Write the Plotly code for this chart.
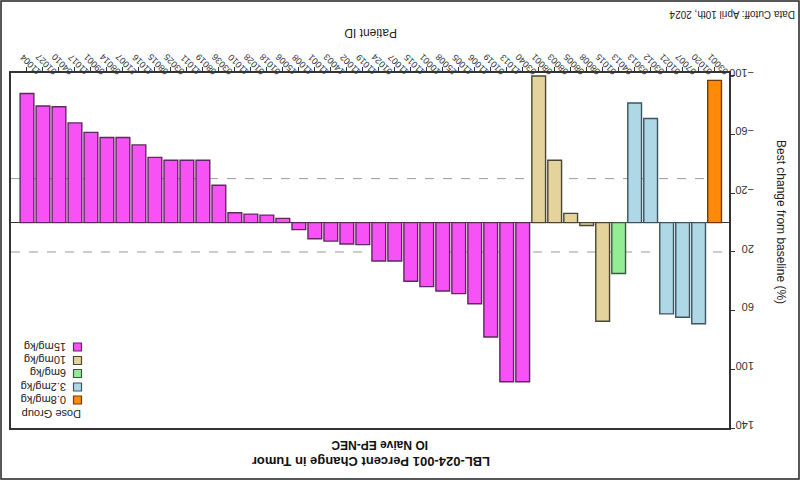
import plotly.graph_objects as go

# ---- data (display order, left to right) ----
patient_ids = ["11004", "01027", "04010", "11017", "09001", "08014", "21007", "11016",
               "08015", "03025", "11011", "08019", "03036", "11010", "01028", "01018",
               "15006", "11008", "11001", "14003", "11002", "11019", "01024", "11007",
               "11015", "10001", "25008", "11005", "11006", "01019", "11013", "03040",
               "08001", "08003", "08005", "08008", "01015", "04013", "03013", "03012",
               "01021", "07007", "01020", "03001"]
best_change = [-88, -79.5, -79, -68, -61.5, -58, -58, -53,
               -44.5, -42.5, -42.5, -42.5, -25.5, -6.7, -5.8, -5.1,
               -2.9, 4.8, 11, 12.6, 14.6, 15, 26.2, 26.2,
               40, 43.6, 46.6, 48.4, 55.3, 78, 108.5, 108.5,
               -100, -42.5, -6.3, 2, 67.2, 34.7, -81.5, -71,
               62.2, 64.5, 68.9, -97]
dose_group = (["15mg/kg"] * 32 + ["10mg/kg"] * 5 + ["6mg/kg"] + ["3.2mg/kg"] * 5 + ["0.8mg/kg"])
dose_levels = ["15mg/kg", "10mg/kg", "6mg/kg", "3.2mg/kg", "0.8mg/kg"]
y_ticks = [-100, -60, -20, 20, 60, 100, 140]
thresholds = [-30, 20]

fills = {"15mg/kg": "#F652F6", "10mg/kg": "#E4D49B", "6mg/kg": "#94EC94",
         "3.2mg/kg": "#AED8E5", "0.8mg/kg": "#FF8A0A"}
edges = {"15mg/kg": "#5E2A5E", "10mg/kg": "#4A4636", "6mg/kg": "#3E5A3E",
         "3.2mg/kg": "#3C5560", "0.8mg/kg": "#6E3B05"}

W, H = 800, 480
L, R, T, B = 11, 729, 73, 428   # plot area in pixels


def px(x):
    return (x - L) / (R - L)


def py(y):
    return (B - y) / (B - T)


fig = go.Figure()
for g in dose_levels:
    xs = [p for p, d in zip(patient_ids, dose_group) if d == g]
    ys = [v for v, d in zip(best_change, dose_group) if d == g]
    fig.add_trace(go.Bar(x=xs, y=ys, name=g, marker_color=fills[g],
                         marker_line_color=edges[g], marker_line_width=1.4,
                         showlegend=False))

for t in thresholds:
    fig.add_shape(type="line", xref="paper", yref="y", x0=0, x1=1, y0=t, y1=t,
                  line=dict(color="#9A9A9A", width=1, dash="dash"), layer="below")

anns = []
anns.append(dict(text="<b>LBL-024-001 Percent Change in Tumor</b>", x=px(371), y=py(462),
                 font=dict(size=13, color="#111")))
anns.append(dict(text="<b>IO Naive EP-NEC</b>", x=px(380), y=py(445),
                 font=dict(size=12, color="#111")))
anns.append(dict(text="Patient ID", x=px(371), y=py(33), font=dict(size=12, color="#222")))
anns.append(dict(text="Data Cutoff: April 10th, 2024", x=px(732), y=py(15),
                 font=dict(size=10, color="#222")))
for a in anns:
    a.update(xref="paper", yref="paper", showarrow=False, textangle=180,
             xanchor="center", yanchor="middle")
    fig.add_annotation(**a)

fig.add_annotation(text="Best change from baseline (%)", x=px(781), y=py(222),
                   xref="paper", yref="paper", showarrow=False, textangle=90,
                   font=dict(size=12, color="#222"), xanchor="center", yanchor="middle")

# upside-down legend
leg_y = [347, 360.5, 373.5, 387, 400]
for g, yy in zip(dose_levels, leg_y):
    fig.add_shape(type="rect", xref="paper", yref="paper",
                  x0=px(73.5), x1=px(81.5), y0=py(yy - 4), y1=py(yy + 4),
                  fillcolor=fills[g], line=dict(color=edges[g], width=1.2))
    fig.add_annotation(text=g, x=px(68), y=py(yy), xref="paper", yref="paper",
                       showarrow=False, textangle=180, xanchor="right", yanchor="middle",
                       font=dict(size=11, color="#222"))
fig.add_annotation(text="Dose Group", x=px(83), y=py(414), xref="paper", yref="paper",
                   showarrow=False, textangle=180, xanchor="right", yanchor="middle",
                   font=dict(size=11, color="#222"))

# outer border
fig.add_shape(type="rect", xref="paper", yref="paper",
              x0=px(1), x1=px(799), y0=py(479), y1=py(1),
              line=dict(color="#222", width=1.5), fillcolor="rgba(0,0,0,0)")

fig.update_layout(
    width=W, height=H,
    margin=dict(l=L, r=W - R, t=T, b=H - B, autoexpand=False),
    plot_bgcolor="white", paper_bgcolor="white",
    barmode="overlay", bargap=0.14,
    font=dict(family="Liberation Sans, Arial, sans-serif", color="#222"),
    xaxis=dict(type="category", categoryorder="array", categoryarray=patient_ids,
               side="top", range=[-1, 43.9], tickangle=-135, automargin=False,
               tickfont=dict(size=9, color="#333"), ticks="outside", ticklen=4,
               ticklabelstandoff=-15, ticklabelshift=11,
               tickcolor="#333", showline=True, linecolor="#333", linewidth=1.5,
               mirror=True, showgrid=False, zeroline=False),
    yaxis=dict(side="right", range=[140, -102], tickvals=y_ticks, tickangle=180,
               automargin=False, ticklabelstandoff=17,
               tickfont=dict(size=11, color="#333"), ticks="outside", ticklen=4,
               tickcolor="#333", showline=True, linecolor="#333", linewidth=1.5,
               mirror=True, showgrid=False, zeroline=True, zerolinecolor="#333",
               zerolinewidth=1),
)

fig.write_html("out.html", config={"displayModeBar": False},
               post_script="document.body.style.margin='0';document.body.style.overflow='hidden';")
